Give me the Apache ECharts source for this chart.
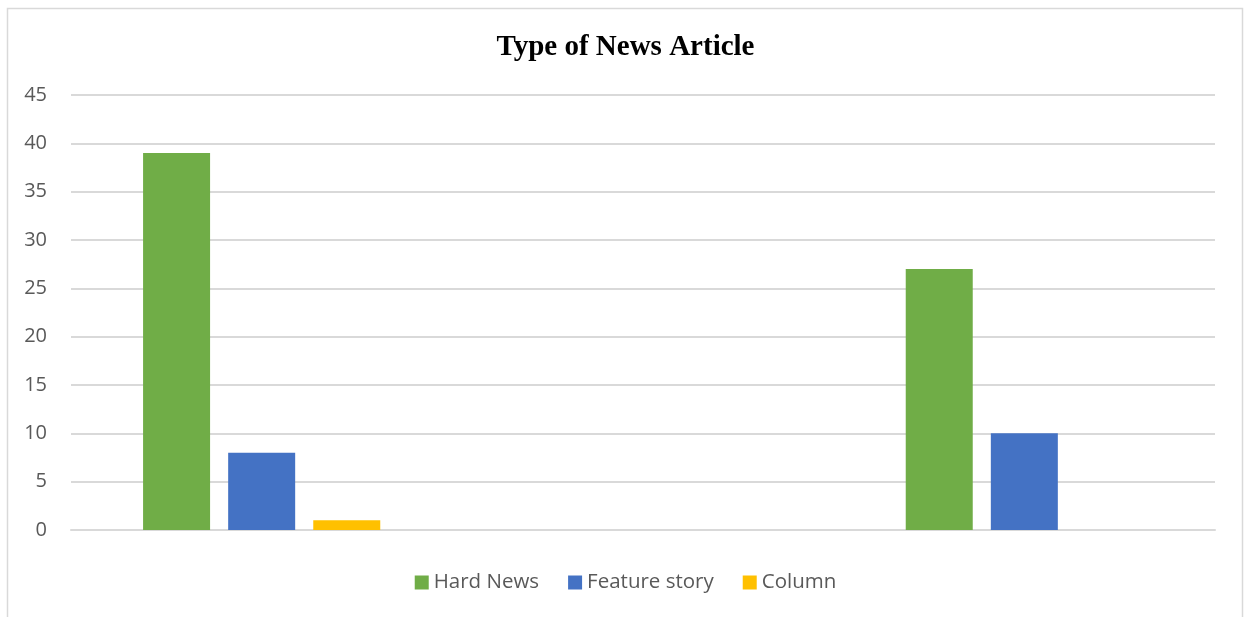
<!DOCTYPE html>
<html>
<head>
<meta charset="utf-8">
<script src="https://cdn.jsdelivr.net/npm/echarts@6/dist/echarts.min.js"></script>
<style>
  html, body { margin: 0; padding: 0; background: #ffffff; }
  #chart { width: 1251px; height: 617px; }
</style>
</head>
<body>
<div id="chart"></div>
<script>
// Categories have no printed labels; the middle group is empty.
const categories = ['', '', ''];
const seriesNames = ['Hard News', 'Feature story', 'Column'];
const hardNews = [39, null, 27];
const featureStory = [8, null, 10];
const column = [1, null, null];
const yTicks = { min: 0, max: 45, interval: 5 };

const colors = ['#70ad47', '#4472c4', '#ffc000'];
const values = [hardNews, featureStory, column];

const chart = echarts.init(document.getElementById('chart'), null, { renderer: 'canvas' });

chart.setOption({
  animation: false,
  backgroundColor: '#ffffff',
  title: {
    text: 'Type of News Article',
    left: 'center',
    top: 28,
    textStyle: {
      fontFamily: '"Liberation Serif", "Times New Roman", serif',
      fontWeight: 'bold',
      fontSize: 29,
      color: '#000000'
    }
  },
  graphic: [{
    type: 'rect',
    shape: { x: 7.5, y: 8.5, width: 1235, height: 640 },
    style: { fill: 'none', stroke: '#d9d9d9', lineWidth: 1.5 },
    silent: true,
    z: -1
  }],
  legend: {
    bottom: 19,
    left: 'center',
    itemWidth: 14,
    itemHeight: 14,
    itemGap: 29,
    icon: 'rect',
    textStyle: {
      fontFamily: '"Open Sans", "Noto Sans", sans-serif',
      fontSize: 20.5,
      color: '#595959'
    },
    data: seriesNames
  },
  grid: { left: 71, right: 36, top: 95, bottom: 87, containLabel: false },
  xAxis: {
    type: 'category',
    data: categories,
    axisLine: { show: true, lineStyle: { color: '#d9d9d9', width: 2 } },
    axisTick: { show: false },
    axisLabel: { show: false }
  },
  yAxis: {
    type: 'value',
    min: yTicks.min,
    max: yTicks.max,
    interval: yTicks.interval,
    axisLine: { show: false },
    axisTick: { show: false },
    splitLine: { lineStyle: { color: '#d9d9d9', width: 2 } },
    axisLabel: {
      margin: 24,
      fontFamily: '"Open Sans", "Noto Sans", sans-serif',
      fontSize: 20,
      color: '#595959'
    }
  },
  series: seriesNames.map((name, i) => ({
    name: name,
    type: 'bar',
    data: values[i],
    barCategoryGap: '37.8%',
    barGap: '27%',
    itemStyle: { color: colors[i] }
  }))
});
</script>
</body>
</html>
